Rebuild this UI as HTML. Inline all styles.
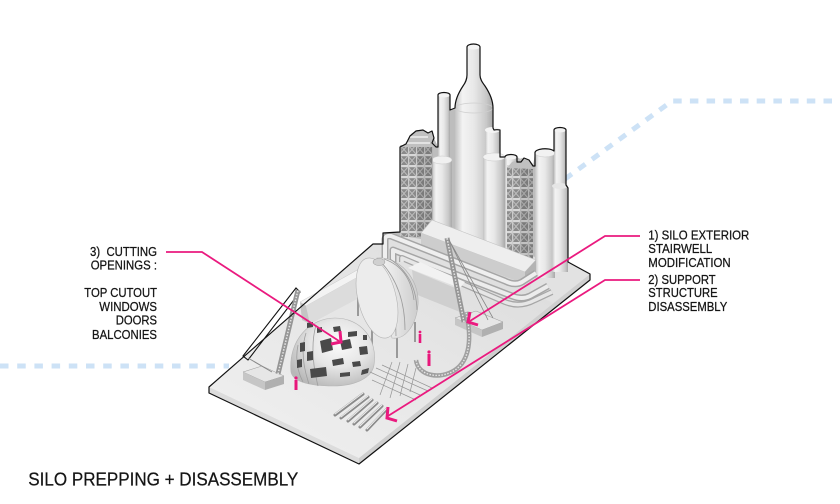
<!DOCTYPE html>
<html><head><meta charset="utf-8"><style>
html,body{margin:0;padding:0;background:#fff;}
body{width:840px;height:504px;overflow:hidden;}
svg{display:block;}
text{font-family:"Liberation Sans",Arial,sans-serif;fill:#151515;stroke:#151515;stroke-width:0.25;white-space:pre;}
</style></head><body>
<svg width="840" height="504" viewBox="0 0 840 504" xmlns="http://www.w3.org/2000/svg">
<defs>
 <linearGradient id="cyl" x1="0" x2="1" y1="0" y2="0">
  <stop offset="0" stop-color="#c2c2c2"/><stop offset="0.2" stop-color="#f3f3f3"/><stop offset="0.5" stop-color="#e8e8e8"/><stop offset="0.82" stop-color="#c9c9c9"/><stop offset="1" stop-color="#a9a9a9"/>
 </linearGradient>
 <pattern id="lat" width="8" height="11" patternUnits="userSpaceOnUse">
  <rect width="8" height="11" fill="#8a8a8a"/>
  <rect width="8" height="2.2" fill="#d8d8d8"/>
  <path d="M0,2 L8,11 M8,2 L0,11" stroke="#bdbdbd" stroke-width="1"/>
  <rect width="1.3" height="11" fill="#cacaca"/>
 </pattern>
 <radialGradient id="egg" cx="58%" cy="38%" r="68%">
  <stop offset="0" stop-color="#fbfbfb"/><stop offset="0.5" stop-color="#e6e6e6"/><stop offset="1" stop-color="#b8b8b8"/>
 </radialGradient>
 <linearGradient id="floor" x1="1" y1="0" x2="0" y2="1">
  <stop offset="0" stop-color="#d9d9d9"/><stop offset="0.5" stop-color="#e6e6e6"/><stop offset="1" stop-color="#f1f1f1"/>
 </linearGradient>
 <linearGradient id="dome" x1="0" x2="1" y1="0" y2="0">
  <stop offset="0" stop-color="#f8f8f8"/><stop offset="1" stop-color="#cdcdcd"/>
 </linearGradient>
</defs>

<!-- blue dashed lines -->
<path d="M0,366 L229,366" stroke="#cde2f6" stroke-width="5" stroke-dasharray="8.5 8.7" fill="none"/>
<path d="M565,179 L672,101 L840,101" stroke="#cde2f6" stroke-width="5" stroke-dasharray="8.5 8.2" fill="none"/>

<!-- silhouette backfill -->
<path d="M383,233 L400,232 L400,147 L423,130 L434,138 L438,147 L438,95 L450,95 L450,110 L455,108 L467,75 L467,47 L480,47 L480,75 L493,108 L493,128 L500,130 L500,157 L517,157 L533,166 L535,153 L554,151 L554,130 L566,130 L566,185 L568,188 L568,262 L590,274 L540,300 L400,260 Z" fill="#bdbdbd"/>

<!-- slab -->
<polygon points="209,387 373,244 383,244 383,233 568,262 590,274 359,458" fill="url(#floor)"/>
<polygon points="209,387 359,458 359,464 209,393" fill="#dcdcdc"/>
<polygon points="359,458 590,274 590,280 359,464" fill="#cfcfcf"/>
<polygon points="535,262 568,262 590,274 553,303 530,292" fill="#e2e2e2"/>

<!-- towers -->
<rect x="438" y="95" width="12" height="150" fill="url(#cyl)"/>
<ellipse cx="444" cy="95" rx="6" ry="2.5" fill="#f4f4f4"/>
<path d="M455,250 L455,108 C455,100 459,92 463,86 C466,82 467,79 467,75 L467,47 A6.5,3 0 0 1 480,47 L480,75 C480,79 482,82 485,86 C489,92 493,100 493,108 L493,250 Z" fill="url(#cyl)"/>
<ellipse cx="473.5" cy="47" rx="6.5" ry="2.5" fill="#f4f4f4"/>
<ellipse cx="474" cy="108" rx="19" ry="5" fill="none" stroke="#cfcfcf" stroke-width="0.8"/>
<rect x="485" y="130" width="15" height="125" fill="url(#cyl)"/>
<ellipse cx="492.5" cy="130" rx="7.5" ry="3" fill="#f4f4f4"/>
<rect x="483" y="157" width="22" height="100" fill="url(#cyl)"/>
<ellipse cx="494" cy="157" rx="11" ry="4" fill="#f2f2f2" stroke="#c8c8c8" stroke-width="0.5"/>
<rect x="432" y="160" width="20" height="85" fill="url(#cyl)"/>
<ellipse cx="442" cy="160" rx="10" ry="4" fill="#f0f0f0" stroke="#c8c8c8" stroke-width="0.5"/>
<!-- lattice 1 -->
<rect x="400" y="145" width="33" height="92" fill="url(#lat)"/>
<rect x="417" y="145" width="16" height="92" fill="#000" opacity="0.1"/>
<polygon points="402,147 407,141 411,134 417,130 424,130 429,133 433,131 434,140 433,147" fill="#c0c0c0"/>
<path d="M405,143 L430,143 M410,137 L428,137" stroke="#eee" stroke-width="1.5"/>
<rect x="505" y="157" width="12" height="105" fill="url(#cyl)"/>
<ellipse cx="511" cy="157" rx="6" ry="2.5" fill="#f2f2f2"/>
<!-- lattice 2 -->
<rect x="507" y="165" width="26" height="98" fill="url(#lat)"/>
<rect x="520" y="165" width="13" height="98" fill="#000" opacity="0.1"/>
<polygon points="507,168 512,162 517,160 522,158 528,160 533,164 533,169" fill="#c0c0c0"/>
<rect x="535" y="153" width="20" height="125" fill="url(#cyl)"/>
<ellipse cx="545" cy="153" rx="10" ry="4" fill="#f2f2f2" stroke="#c8c8c8" stroke-width="0.5"/>
<rect x="554" y="130" width="12" height="140" fill="url(#cyl)"/>
<ellipse cx="560" cy="130" rx="6" ry="2.5" fill="#f2f2f2"/>
<rect x="552" y="186" width="16" height="86" fill="url(#cyl)"/>
<ellipse cx="560" cy="186" rx="8" ry="3" fill="#e6e6e6"/>

<!-- tank -->
<polygon points="432,220 421,233 525,272 536,260" fill="#eeeeee" stroke="#c4c4c4" stroke-width="0.6"/>
<polygon points="421,233 525,272 525,284 421,246" fill="#cdcdcd"/>
<polygon points="525,272 536,260 536,272 525,284" fill="#b4b4b4"/>

<!-- pipes -->
<g fill="none" stroke-linejoin="round">
 <path d="M385,262 L385,240 Q385,235 391,236 L505,281 Q515,286 522,282 L536,273" stroke="#a6a6a6" stroke-width="7"/>
 <path d="M385,262 L385,240 Q385,235 391,236 L505,281 Q515,286 522,282 L536,273" stroke="#efefef" stroke-width="4"/>
 <path d="M393,262 L393,250 L512,296 Q522,300 530,296 L548,286" stroke="#a6a6a6" stroke-width="7"/>
 <path d="M393,262 L393,250 L512,296 Q522,300 530,296 L548,286" stroke="#ececec" stroke-width="4"/>
 <path d="M402,262 L402,258 L505,302 Q520,308 535,300 L552,292" stroke="#a6a6a6" stroke-width="6"/>
 <path d="M402,262 L402,258 L505,302 Q520,308 535,300 L552,292" stroke="#e6e6e6" stroke-width="3.5"/>
</g>

<!-- walls / blocks -->
<polygon points="300,302 368,264 374,268 306,306" fill="#f3f3f3" stroke="#c8c8c8" stroke-width="0.5"/>
<polygon points="306,306 374,268 374,290 310,324" fill="#dcdcdc"/>
<polygon points="300,302 306,306 310,324 302,320" fill="#c4c4c4"/>
<polygon points="408,268 420,262 465,282 460,288" fill="#f2f2f2"/>
<polygon points="412,270 460,290 460,312 415,294" fill="#cfcfcf"/>

<!-- silo legs + silo -->
<path d="M358,285 L358,316 M397,328 L397,358 M415,322 L415,342 M372,325 L372,350" stroke="#999" stroke-width="2"/>
<path d="M377,258 C398,256 420,278 418,305 C416,326 405,340 392,338 Z" fill="url(#dome)" stroke="#b3b3b3" stroke-width="0.6"/>
<path d="M384,259 Q410,268 414,300 M390,259 Q416,276 417,310 M381,262 Q405,288 405,330 M379,264 Q396,294 396,336" stroke="#9c9c9c" stroke-width="0.8" fill="none"/>
<ellipse cx="377" cy="298" rx="19" ry="41" transform="rotate(-14 377 298)" fill="#ececec" stroke="#b3b3b3" stroke-width="0.6"/>
<ellipse cx="379" cy="262" rx="6" ry="3.5" fill="#d0d0d0" stroke="#999" stroke-width="0.5"/>

<!-- egg -->
<path d="M291,372 C288,340 310,318 335,318 C360,318 378,338 374,365 C372,378 355,386 333,386 C310,386 293,382 291,372 Z" fill="url(#egg)" stroke="#b5b5b5" stroke-width="0.6"/>
<path d="M298,345 Q294,365 303,382 M306,333 Q299,355 309,384 M316,325 Q309,350 318,386" stroke="#9e9e9e" stroke-width="0.8" fill="none"/>
<g fill="#4a4a4a">
 <polygon points="320,341 331,338 333,350 322,353"/>
 <polygon points="340,341 350,339 352,348 342,350"/>
 <polygon points="359,347 367,346 368,354 360,355"/>
 <polygon points="310,369 326,367 327,376 311,378"/>
 <polygon points="332,360 343,358 344,364 333,366"/>
 <polygon points="352,362 360,361 361,366 353,367"/>
 <polygon points="307,352 313,351 313,360 307,361"/>
 <polygon points="300,343 305,342 305,351 300,352"/>
 <polygon points="333,327 340,326 341,331 334,332"/>
 <polygon points="348,332 357,331 357,336 348,337"/>
 <polygon points="363,335 367,335 367,340 363,340"/>
 <polygon points="317,328 322,327 322,332 317,333"/>
 <polygon points="340,373 350,372 350,376 340,377"/>
 <polygon points="297,360 302,359 302,367 297,368"/>
 <polygon points="307,323 313,322 313,327 307,328"/>
 <polygon points="362,370 369,368 368,373 361,375"/>
</g>

<!-- left crane -->
<polygon points="243,372 262,366 284,376 265,382" fill="#e6e6e6" stroke="#999" stroke-width="0.5"/>
<polygon points="243,372 265,382 265,390 243,380" fill="#c6c6c6"/>
<polygon points="265,382 284,376 284,384 265,390" fill="#b0b0b0"/>
<path d="M243,356 L296,288 L300,292 L248,360 Z" fill="none" stroke="#111" stroke-width="1.1"/>
<line x1="278" y1="374" x2="298" y2="290" stroke="#969696" stroke-width="5"/>
<line x1="278" y1="374" x2="298" y2="290" stroke="#e6e6e6" stroke-width="1.5" stroke-dasharray="1.5 1.5"/>
<line x1="248" y1="358" x2="272" y2="372" stroke="#888" stroke-width="1"/>

<!-- right crane -->
<polygon points="455,318 476,311 503,322 482,330" fill="#e6e6e6" stroke="#999" stroke-width="0.5"/>
<polygon points="455,318 482,330 482,337 455,325" fill="#c6c6c6"/>
<polygon points="482,330 503,322 503,329 482,337" fill="#b0b0b0"/>
<line x1="464" y1="322" x2="447" y2="238" stroke="#969696" stroke-width="5"/>
<line x1="464" y1="322" x2="447" y2="238" stroke="#e6e6e6" stroke-width="1.5" stroke-dasharray="1.5 1.5"/>
<path d="M493,318 L449,240 M488,320 L450,242" stroke="#888" stroke-width="0.8"/>
<path d="M416,360 C418,376 440,380 455,370 C470,360 472,338 466,312" stroke="#a0a0a0" stroke-width="4.5" fill="none"/>
<path d="M416,360 C418,376 440,380 455,370 C470,360 472,338 466,312" stroke="#e6e6e6" stroke-width="1.4" fill="none" stroke-dasharray="1.5 1.5"/>

<!-- floor hatch -->
<g stroke="#959595" stroke-width="0.7">
 <line x1="370" y1="372" x2="420" y2="395"/>
 <line x1="376" y1="368" x2="428" y2="391"/>
 <line x1="382" y1="365" x2="432" y2="388"/>
 <line x1="372" y1="380" x2="416" y2="400"/>
 <line x1="392" y1="362" x2="380" y2="395"/>
 <line x1="400" y1="362" x2="390" y2="398"/>
 <line x1="408" y1="364" x2="400" y2="396"/>
 <line x1="416" y1="368" x2="410" y2="392"/>
</g>

<!-- rods -->
<g stroke-linecap="round">
 <g stroke="#8a8a8a" stroke-width="3">
  <line x1="363" y1="394" x2="335" y2="415"/>
  <line x1="368" y1="397" x2="341" y2="418"/>
  <line x1="372" y1="400" x2="348" y2="421"/>
  <line x1="377" y1="403" x2="354" y2="424"/>
  <line x1="382" y1="406" x2="360" y2="427"/>
  <line x1="387" y1="409" x2="367" y2="430"/>
 </g>
 <g stroke="#efefef" stroke-width="1">
  <line x1="363" y1="393" x2="335" y2="414"/>
  <line x1="368" y1="396" x2="341" y2="417"/>
  <line x1="372" y1="399" x2="348" y2="420"/>
  <line x1="377" y1="402" x2="354" y2="423"/>
  <line x1="382" y1="405" x2="360" y2="426"/>
  <line x1="387" y1="408" x2="367" y2="429"/>
 </g>
</g>

<!-- figures -->
<g fill="#e8177b">
 <circle cx="296" cy="378" r="1.6"/><rect x="294.5" y="380" width="3" height="10"/>
 <circle cx="420" cy="332" r="1.4"/><rect x="418.7" y="334" width="2.6" height="9"/>
 <circle cx="429" cy="352" r="1.6"/><rect x="427.5" y="354" width="3" height="12"/>
</g>

<!-- silhouette outline -->
<path d="M209,387 L373,244 L383,244 L383,233 L400,232 L400,147 L406,144 L410,136 L416,131 L423,130 L428,133 L432,131 L434,138 L432,143 L436,147 L438,147 L438,95 A6,2.5 0 0 1 450,95 L450,110 L455,108 C455,100 459,92 463,86 C466,82 467,79 467,75 L467,47 A6.5,3 0 0 1 480,47 L480,75 C480,79 482,82 485,86 C489,92 493,100 493,108 L493,128 L494,130 A7,3 0 0 1 500,130 L500,157 L505,157 A6,2.5 0 0 1 517,157 L517,162 L521,162 L524,158 L529,160 L533,166 L535,166 L535,153 A10,4 0 0 1 554,151 L554,130 A6,2.5 0 0 1 566,130 L566,185 L568,188 L568,262 L590,274 L590,280 L359,464 L209,393 Z" fill="none" stroke="#111" stroke-width="1.2" stroke-linejoin="round"/>

<!-- pink leaders -->
<g fill="none" stroke="#ea1a7f" stroke-width="1.8">
 <path d="M166,252 L202,252 L339,341"/>
 <path d="M640,236 L605,236 L470,321"/>
 <path d="M640,280 L605,280 L388,416"/>
</g>
<g fill="none" stroke="#ea1a7f" stroke-width="3" stroke-linejoin="miter">
 <path d="M340,331 L341,342 L331,344"/>
 <path d="M470,312 L468,322 L478,325"/>
 <path d="M388,407 L387,418 L397,421"/>
</g>

<!-- labels -->
<g font-size="12.5">
 <text x="90" y="256" textLength="67" lengthAdjust="spacingAndGlyphs">3)  CUTTING</text>
 <text x="90.7" y="269.5" textLength="66.3" lengthAdjust="spacingAndGlyphs">OPENINGS :</text>
 <text x="84.3" y="297" textLength="72.7" lengthAdjust="spacingAndGlyphs">TOP CUTOUT</text>
 <text x="99.3" y="311" textLength="57.7" lengthAdjust="spacingAndGlyphs">WINDOWS</text>
 <text x="115.7" y="324.5" textLength="41.3" lengthAdjust="spacingAndGlyphs">DOORS</text>
 <text x="92" y="339" textLength="65" lengthAdjust="spacingAndGlyphs">BALCONIES</text>

 <text x="648.3" y="239.5" textLength="101" lengthAdjust="spacingAndGlyphs">1) SILO EXTERIOR</text>
 <text x="648.3" y="253" textLength="64" lengthAdjust="spacingAndGlyphs">STAIRWELL</text>
 <text x="648.3" y="266.8" textLength="82.4" lengthAdjust="spacingAndGlyphs">MODIFICATION</text>
 <text x="648.3" y="284" textLength="67.4" lengthAdjust="spacingAndGlyphs">2) SUPPORT</text>
 <text x="648.3" y="297" textLength="69.4" lengthAdjust="spacingAndGlyphs">STRUCTURE</text>
 <text x="648.3" y="311" textLength="79" lengthAdjust="spacingAndGlyphs">DISASSEMBLY</text>
</g>
<text x="28.3" y="485.7" font-size="18.6" stroke-width="0.15" textLength="270" lengthAdjust="spacingAndGlyphs">SILO PREPPING + DISASSEMBLY</text>
</svg>
</body></html>
